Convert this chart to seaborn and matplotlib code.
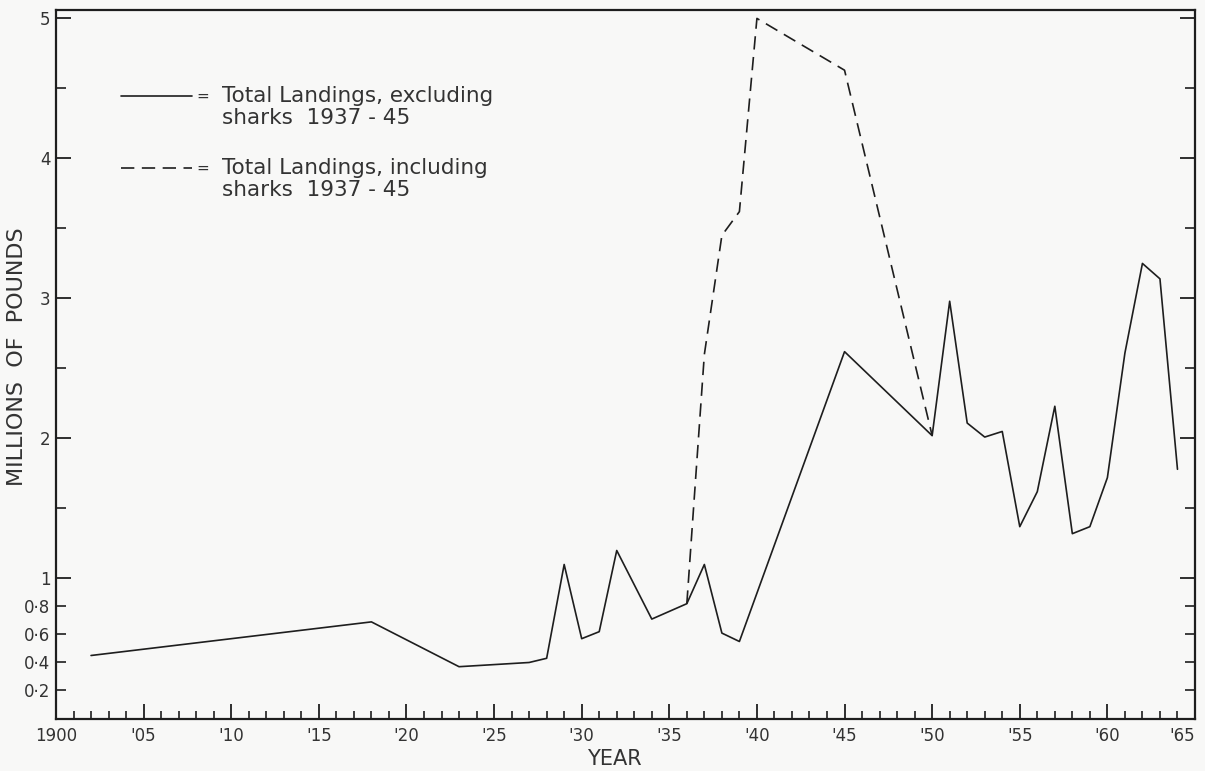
import matplotlib
matplotlib.use("Agg")
import matplotlib.pyplot as plt
from matplotlib.lines import Line2D
import seaborn as sns

# Total landings excluding sharks, millions of pounds
years_excl = [1902, 1918, 1923, 1927, 1928, 1929, 1930, 1931, 1932, 1934,
              1936, 1937, 1938, 1939, 1945, 1950, 1951, 1952, 1953, 1954,
              1955, 1956, 1957, 1958, 1959, 1960, 1961, 1962, 1963, 1964]
landings_excl = [0.45, 0.69, 0.37, 0.40, 0.43, 1.10, 0.57, 0.62, 1.20, 0.71,
                 0.82, 1.10, 0.61, 0.55, 2.62, 2.02, 2.98, 2.11, 2.01, 2.05,
                 1.37, 1.62, 2.23, 1.32, 1.37, 1.72, 2.61, 3.25, 3.14, 1.78]

# Total landings including sharks 1937-45
years_incl = [1936, 1937, 1938, 1939, 1940, 1945, 1950]
landings_incl = [0.82, 2.60, 3.45, 3.62, 5.00, 4.63, 2.02]

# Axis ticks and labels
x_major = list(range(1900, 1966, 5))
x_labels = ["1900", "'05", "'10", "'15", "'20", "'25", "'30", "'35",
            "'40", "'45", "'50", "'55", "'60", "'65"]
x_minor = list(range(1900, 1966))
y_major = [1, 2, 3, 4, 5]
y_major_labels = ["1", "2", "3", "4", "5"]
y_minor = [0.2, 0.4, 0.6, 0.8, 1.5, 2.5, 3.5, 4.5]
y_minor_labels = ["0·2", "0·4", "0·6", "0·8", "", "", "", ""]

legend_labels = ["Total Landings, excluding\nsharks  1937 - 45",
                 "Total Landings, including\nsharks  1937 - 45"]

ink = "#1e1e1e"
text_ink = "#333333"
bg = "#f8f8f7"
dash = (0, (8, 4.5))

sns.set_theme(style="ticks")
plt.rcParams["font.family"] = ["DejaVu Sans"]

W, H = 1205, 771
fig = plt.figure(figsize=(W / 100, H / 100), dpi=100, facecolor=bg)
left_px, right_px, top_px, bottom_px = 56, 1195, 10, 718.5
ax = fig.add_axes([left_px / W, (H - bottom_px) / H,
                   (right_px - left_px) / W, (bottom_px - top_px) / H])
ax.set_facecolor(bg)

sns.lineplot(x=years_excl, y=landings_excl, ax=ax, color=ink, linewidth=1.2)
sns.lineplot(x=years_incl, y=landings_incl, ax=ax, color=ink, linewidth=1.2,
             linestyle=dash)

ax.set_xlim(1900, 1965)
ax.set_ylim(0, 5.06)

ax.set_xticks(x_major)
ax.set_xticklabels(x_labels)
ax.set_xticks(x_minor, minor=True)
ax.set_yticks(y_major)
ax.set_yticklabels(y_major_labels)
ax.set_yticks(y_minor, minor=True)
ax.set_yticklabels(y_minor_labels, minor=True)

ax.tick_params(axis="x", which="major", direction="in", length=11, width=1.3,
               pad=6, labelsize=12, labelcolor=text_ink, color=ink)
ax.tick_params(axis="x", which="minor", direction="in", length=6, width=1.2,
               color=ink)
ax.tick_params(axis="y", which="major", direction="in", length=11, width=1.3,
               left=True, right=True, labelleft=True, labelright=False,
               pad=4, labelsize=12, labelcolor=text_ink, color=ink)
ax.tick_params(axis="y", which="minor", direction="in", length=7, width=1.2,
               left=True, right=True, labelleft=True, labelright=False,
               pad=4, labelsize=12, labelcolor=text_ink, color=ink)

# the last year label sits against the right frame edge
ax.get_xticklabels()[-1].set_horizontalalignment("right")

for side in ["left", "right", "top", "bottom"]:
    ax.spines[side].set_visible(True)
    ax.spines[side].set_linewidth(1.6)
    ax.spines[side].set_color(ink)

ax.set_xlabel("YEAR", fontsize=15, color=text_ink)
ax.xaxis.set_label_coords((614 - left_px) / (right_px - left_px),
                          -(749 - bottom_px) / (bottom_px - top_px))
ax.set_ylabel("MILLIONS  OF  POUNDS", fontsize=16, color=text_ink)
ax.yaxis.set_label_coords(-(56 - 27) / (right_px - left_px),
                          1 - (357 - top_px) / (bottom_px - top_px))

# Hand-built key: sample line, "=" sign, two-line description
def ax_x(px):
    return (px - left_px) / (right_px - left_px)

def ax_y(py):
    return 1 - (py - top_px) / (bottom_px - top_px)

for row, (label, style) in enumerate(zip(legend_labels, ["-", dash])):
    y_line = 96 + 72 * row
    key = Line2D([ax_x(121), ax_x(192)], [ax_y(y_line), ax_y(y_line)],
                 transform=ax.transAxes, color=ink, linewidth=1.2,
                 linestyle=style)
    ax.add_line(key)
    ax.text(ax_x(203), ax_y(y_line), "=", transform=ax.transAxes,
            ha="center", va="center", fontsize=11, color=text_ink)
    ax.text(ax_x(222), ax_y(y_line - 10), label, transform=ax.transAxes,
            ha="left", va="top", fontsize=15.5, color=text_ink,
            linespacing=1.1)

fig.savefig("out.png", dpi=100, facecolor=bg)
